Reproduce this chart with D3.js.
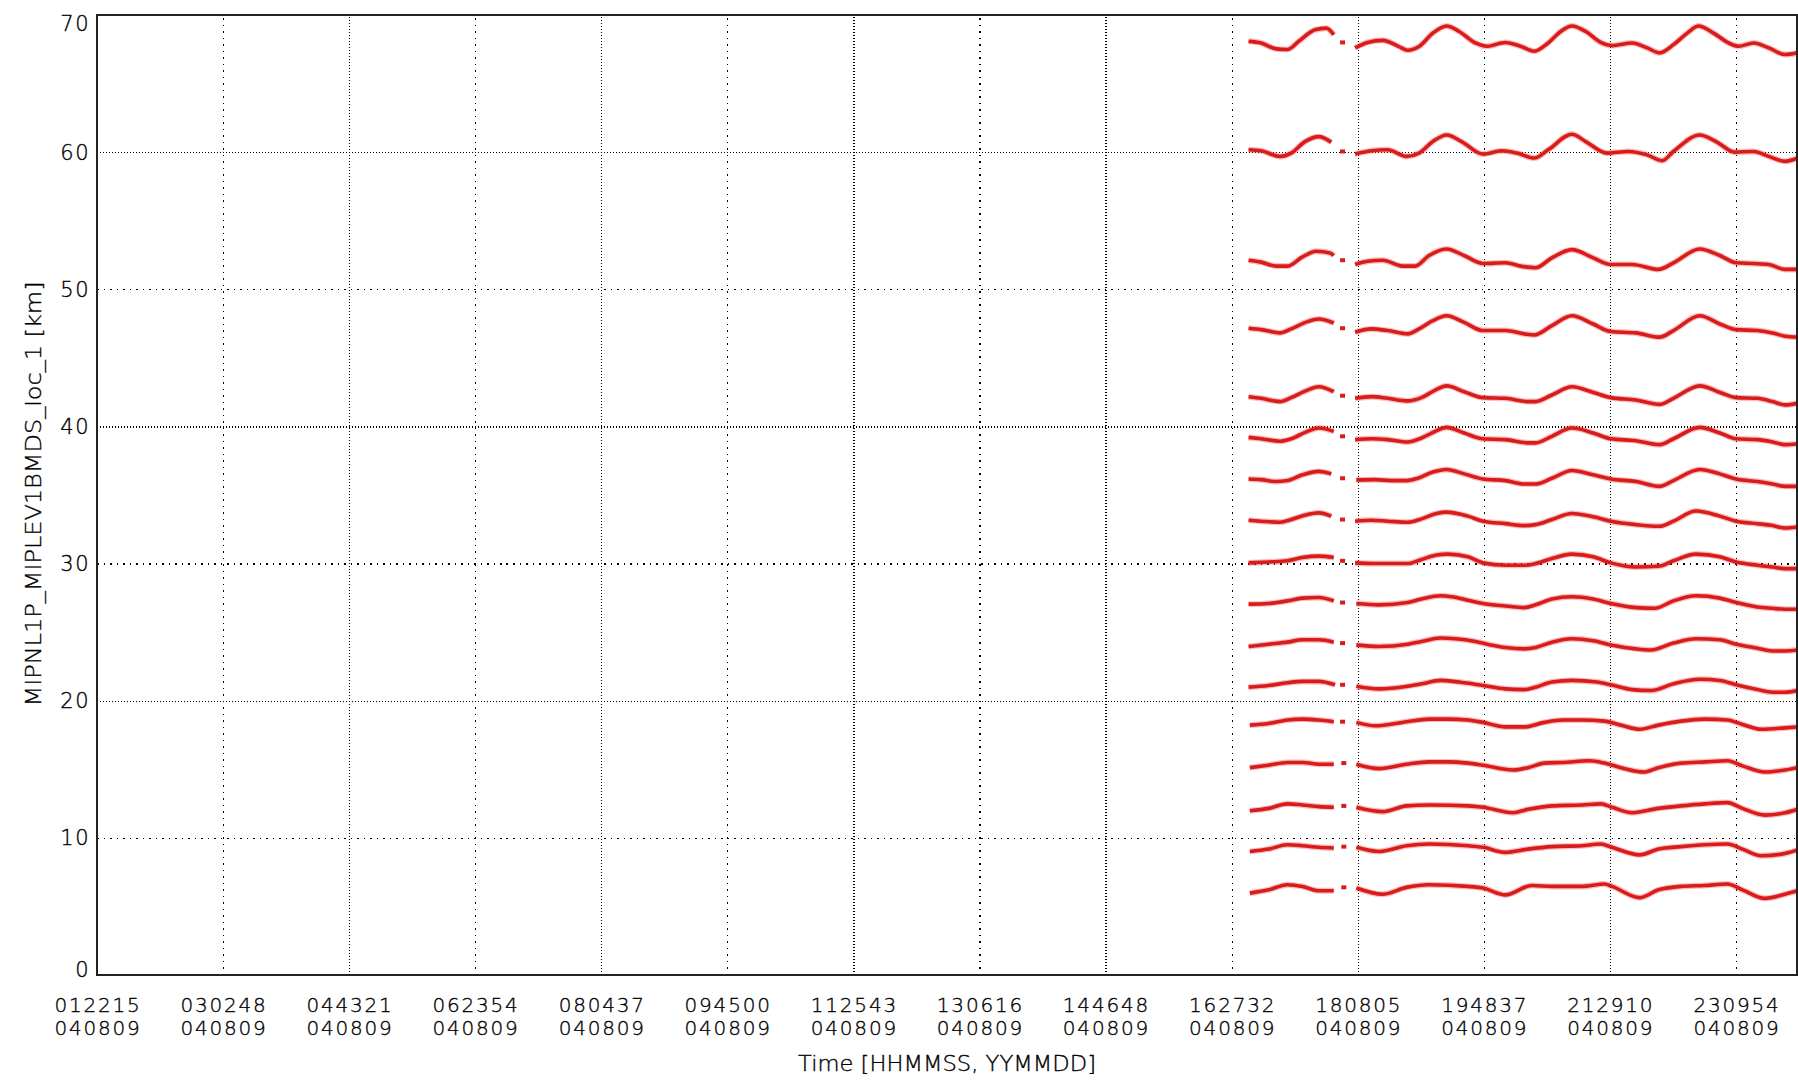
<!DOCTYPE html>
<html><head><meta charset="utf-8">
<script src="https://cdn.jsdelivr.net/npm/d3@7"></script>
<style>html,body{margin:0;padding:0;background:#fff;} svg{display:block;}</style>
</head><body>
<svg id="chart" width="1798" height="1086"></svg>
<script>
// ---------- tick labels ----------
const timeTicks = ["012215","030248","044321","062354","080437","094500","112543","130616","144648","162732","180805","194837","212910","230954"];
const dateTicks = ["040809","040809","040809","040809","040809","040809","040809","040809","040809","040809","040809","040809","040809","040809"];
const yTicks = [0,10,20,30,40,50,60,70];
const xTitle = "Time [HHMMSS, YYMMDD]";
const yTitle = "MIPNL1P_MIPLEV1BMDS_loc_1 [km]";

// ---------- series (time HH:MM, altitude km); null = data gap ----------
const s68 = [["16:41",68.08],["16:51",67.96],["17:03",67.53],["17:12",67.48],["17:21",68.08],["17:34",68.92],["17:43",69.04],["17:49",68.56],["17:53",null],["17:56",68.0],["18:01",null],["18:06",67.6],["18:16",68.0],["18:28",68.15],["18:41",67.7],["18:48",67.43],["18:57",67.7],["19:08",68.68],["19:19",69.2],["19:29",68.8],["19:42",67.96],["19:51",67.72],["20:06",68.0],["20:18",67.72],["20:29",67.36],["20:40",67.96],["20:50",68.8],["20:59",69.2],["21:10",68.8],["21:22",68.0],["21:31",67.77],["21:47",67.96],["21:59",67.6],["22:09",67.24],["22:20",67.84],["22:31",68.68],["22:40",69.2],["22:52",68.68],["23:04",67.96],["23:12",67.72],["23:24",67.96],["23:36",67.6],["23:49",67.12],["23:59",67.24]];
const s60 = [["16:41",60.17],["16:51",60.1],["17:06",59.69],["17:15",59.93],["17:26",60.77],["17:37",61.13],["17:47",60.72],["17:53",null],["17:56",60.05],["18:01",null],["18:06",59.86],["18:19",60.1],["18:32",60.17],["18:47",59.69],["18:57",59.93],["19:08",60.77],["19:19",61.25],["19:31",60.77],["19:48",59.86],["20:03",60.1],["20:15",59.93],["20:29",59.57],["20:40",60.17],["20:59",61.3],["21:10",60.77],["21:27",59.93],["21:44",60.05],["21:59",59.8],["22:11",59.38],["22:20",60.05],["22:41",61.25],["22:54",60.77],["23:09",60.0],["23:24",60.05],["23:36",59.69],["23:49",59.33],["23:59",59.57]];
const s52 = [["16:41",52.12],["16:51",51.98],["17:03",51.69],["17:12",51.69],["17:24",52.36],["17:35",52.77],["17:46",52.65],["17:49",52.46],["17:53",null],["17:56",52.12],["18:01",null],["18:06",51.81],["18:16",52.05],["18:28",52.12],["18:44",51.69],["18:54",51.69],["19:05",52.46],["19:19",52.94],["19:33",52.46],["19:48",51.88],["20:06",51.93],["20:18",51.69],["20:30",51.57],["20:43",52.29],["20:59",52.89],["21:16",52.29],["21:30",51.81],["21:47",51.81],["22:08",51.45],["22:20",51.93],["22:41",52.94],["22:57",52.46],["23:10",51.93],["23:24",51.88],["23:36",51.81],["23:49",51.45],["23:59",51.45]];
const s47 = [["16:41",47.16],["16:51",47.06],["17:06",46.82],["17:15",47.11],["17:28",47.64],["17:37",47.83],["17:49",47.54],["17:53",null],["17:56",47.16],["18:01",null],["18:06",46.87],["18:19",47.11],["18:32",46.99],["18:48",46.75],["18:57",47.11],["19:08",47.71],["19:19",48.07],["19:33",47.59],["19:48",46.99],["20:06",46.99],["20:21",46.75],["20:29",46.67],["20:43",47.35],["20:59",48.07],["21:16",47.47],["21:30",46.92],["21:50",46.82],["22:09",46.51],["22:20",46.99],["22:41",48.07],["22:57",47.47],["23:10",47.06],["23:27",46.99],["23:39",46.82],["23:49",46.58],["23:59",46.51]];
const s42 = [["16:41",42.17],["16:51",42.05],["17:06",41.81],["17:15",42.1],["17:28",42.65],["17:37",42.89],["17:49",42.53],["17:53",null],["17:56",42.24],["18:01",null],["18:06",42.05],["18:19",42.17],["18:32",42.05],["18:48",41.86],["18:59",42.1],["19:10",42.65],["19:19",42.96],["19:33",42.53],["19:48",42.1],["20:06",42.05],["20:24",41.81],["20:30",41.81],["20:43",42.29],["20:59",42.89],["21:16",42.48],["21:30",42.1],["21:50",41.93],["22:09",41.61],["22:20",42.05],["22:41",42.96],["22:57",42.48],["23:10",42.1],["23:27",42.05],["23:39",41.81],["23:49",41.57],["23:59",41.69]];
const s39 = [["16:41",39.2],["16:51",39.1],["17:06",38.92],["17:15",39.1],["17:28",39.64],["17:37",39.88],["17:49",39.64],["17:53",null],["17:56",39.28],["18:01",null],["18:06",39.04],["18:19",39.1],["18:32",39.04],["18:48",38.87],["18:59",39.16],["19:10",39.64],["19:19",39.93],["19:33",39.52],["19:48",39.1],["20:06",39.04],["20:24",38.8],["20:30",38.8],["20:43",39.28],["20:59",39.88],["21:16",39.52],["21:30",39.1],["21:50",38.96],["22:09",38.67],["22:20",39.1],["22:41",39.93],["22:57",39.52],["23:10",39.1],["23:27",39.04],["23:39",38.87],["23:49",38.67],["23:59",38.72]];
const s36 = [["16:41",36.17],["16:51",36.12],["17:03",35.98],["17:12",36.05],["17:24",36.47],["17:37",36.72],["17:47",36.54],["17:53",null],["17:56",36.22],["18:01",null],["18:07",36.1],["18:22",36.12],["18:35",36.05],["18:47",36.05],["18:56",36.22],["19:08",36.67],["19:19",36.86],["19:33",36.54],["19:48",36.17],["20:06",36.05],["20:21",35.8],["20:30",35.8],["20:43",36.22],["20:59",36.79],["21:16",36.47],["21:30",36.17],["21:50",35.98],["22:09",35.63],["22:20",36.05],["22:41",36.86],["22:57",36.54],["23:10",36.17],["23:27",35.98],["23:39",35.8],["23:49",35.63],["23:59",35.63]];
const s33 = [["16:41",33.16],["16:51",33.09],["17:06",33.01],["17:15",33.21],["17:28",33.58],["17:37",33.7],["17:47",33.46],["17:53",null],["17:56",33.21],["18:01",null],["18:06",33.09],["18:19",33.16],["18:32",33.09],["18:48",33.01],["18:59",33.26],["19:11",33.65],["19:19",33.75],["19:36",33.46],["19:48",33.09],["20:06",32.91],["20:21",32.77],["20:30",32.84],["20:43",33.21],["20:59",33.65],["21:16",33.41],["21:30",33.09],["21:50",32.84],["22:09",32.72],["22:20",33.09],["22:38",33.83],["22:57",33.46],["23:10",33.09],["23:27",32.91],["23:39",32.77],["23:49",32.59],["23:59",32.67]];
const s30 = [["16:41",30.05],["16:57",30.12],["17:12",30.2],["17:24",30.44],["17:37",30.54],["17:49",30.44],["17:53",null],["17:56",30.2],["18:01",null],["18:06",30.05],["18:22",30.0],["18:48",30.0],["18:59",30.3],["19:11",30.62],["19:20",30.69],["19:36",30.49],["19:48",30.05],["20:06",29.88],["20:21",29.88],["20:30",30.0],["20:43",30.37],["20:59",30.69],["21:16",30.49],["21:30",30.05],["21:50",29.75],["22:08",29.8],["22:20",30.2],["22:38",30.69],["22:57",30.49],["23:10",30.12],["23:27",29.88],["23:39",29.75],["23:49",29.63],["23:59",29.63]];
const s27 = [["16:41",27.04],["16:57",27.09],["17:12",27.28],["17:24",27.48],["17:37",27.53],["17:49",27.28],["17:53",null],["17:56",27.16],["18:01",null],["18:07",27.09],["18:25",26.99],["18:48",27.16],["18:59",27.41],["19:14",27.65],["19:23",27.58],["19:36",27.33],["19:48",27.09],["20:06",26.91],["20:21",26.79],["20:30",26.99],["20:43",27.41],["20:59",27.58],["21:16",27.41],["21:30",27.09],["21:50",26.79],["22:05",26.74],["22:20",27.28],["22:38",27.65],["22:57",27.48],["23:10",27.16],["23:27",26.84],["23:39",26.74],["23:49",26.67],["23:59",26.67]];
const s24 = [["16:41",23.95],["16:57",24.12],["17:12",24.27],["17:24",24.44],["17:37",24.44],["17:49",24.27],["17:53",null],["17:56",24.2],["18:01",null],["18:07",24.07],["18:25",23.95],["18:48",24.12],["18:59",24.32],["19:14",24.57],["19:26",24.52],["19:42",24.32],["19:54",24.07],["20:06",23.88],["20:21",23.78],["20:30",23.88],["20:43",24.27],["20:59",24.52],["21:16",24.37],["21:30",24.07],["21:50",23.78],["22:02",23.7],["22:20",24.2],["22:38",24.52],["22:57",24.44],["23:10",24.12],["23:27",23.83],["23:39",23.63],["23:49",23.63],["23:59",23.7]];
const s21 = [["16:41",20.99],["16:57",21.11],["17:12",21.31],["17:24",21.41],["17:37",21.41],["17:50",21.16],["17:53",null],["17:56",21.16],["18:01",null],["18:07",21.06],["18:25",20.86],["18:48",21.06],["18:59",21.23],["19:14",21.48],["19:29",21.36],["19:48",21.11],["20:06",20.86],["20:21",20.81],["20:30",20.99],["20:43",21.36],["20:59",21.48],["21:19",21.36],["21:30",21.16],["21:47",20.81],["22:02",20.74],["22:20",21.23],["22:41",21.56],["22:57",21.48],["23:10",21.16],["23:27",20.81],["23:39",20.62],["23:49",20.62],["23:59",20.74]];
const s18 = [["16:42",18.22],["16:57",18.34],["17:12",18.59],["17:24",18.66],["17:37",18.59],["17:49",18.47],["17:53",null],["17:56",18.47],["18:01",null],["18:07",18.42],["18:22",18.17],["18:47",18.47],["19:05",18.66],["19:20",18.66],["19:36",18.59],["19:48",18.42],["20:06",18.09],["20:21",18.09],["20:37",18.42],["20:52",18.59],["21:07",18.59],["21:25",18.51],["21:38",18.22],["21:53",17.92],["22:08",18.22],["22:26",18.51],["22:45",18.66],["23:03",18.59],["23:15",18.27],["23:30",17.92],["23:49",18.02],["23:59",18.09]];
const s15 = [["16:42",15.12],["16:57",15.3],["17:12",15.5],["17:24",15.5],["17:37",15.37],["17:49",15.37],["17:53",null],["17:57",15.45],["18:01",null],["18:07",15.37],["18:25",15.05],["18:47",15.37],["19:05",15.54],["19:20",15.54],["19:36",15.45],["19:48",15.3],["20:12",14.95],["20:24",15.12],["20:37",15.45],["20:52",15.5],["21:13",15.62],["21:25",15.45],["21:38",15.12],["21:56",14.8],["22:08",15.12],["22:26",15.45],["22:45",15.54],["23:03",15.62],["23:15",15.25],["23:33",14.8],["23:49",14.95],["23:59",15.12]];
const s12 = [["16:42",11.98],["16:57",12.15],["17:12",12.48],["17:24",12.4],["17:37",12.28],["17:49",12.23],["17:53",null],["17:57",12.33],["18:01",null],["18:07",12.23],["18:28",11.91],["18:47",12.33],["19:05",12.4],["19:36",12.33],["19:48",12.23],["20:12",11.83],["20:24",12.08],["20:43",12.33],["21:07",12.4],["21:22",12.48],["21:31",12.23],["21:47",11.83],["22:08",12.15],["22:26",12.33],["22:45",12.48],["23:03",12.57],["23:15",12.15],["23:33",11.66],["23:49",11.83],["23:59",12.08]];
const s9 = [["16:42",9.01],["16:57",9.18],["17:12",9.5],["17:24",9.43],["17:37",9.31],["17:49",9.26],["17:53",null],["17:57",9.36],["18:01",null],["18:07",9.31],["18:25",9.01],["18:47",9.43],["19:05",9.55],["19:36",9.43],["19:48",9.31],["20:06",8.94],["20:24",9.18],["20:43",9.36],["21:07",9.43],["21:22",9.55],["21:31",9.31],["21:53",8.76],["22:08",9.18],["22:26",9.36],["22:45",9.5],["23:03",9.55],["23:15",9.18],["23:30",8.69],["23:49",8.86],["23:59",9.11]];
const s6 = [["16:42",5.97],["16:57",6.21],["17:12",6.58],["17:24",6.46],["17:37",6.14],["17:49",6.14],["17:53",null],["17:57",6.39],["18:01",null],["18:07",6.34],["18:28",5.89],["18:47",6.39],["19:05",6.58],["19:36",6.46],["19:48",6.34],["20:06",5.84],["20:27",6.53],["20:43",6.46],["21:07",6.46],["21:25",6.63],["21:31",6.46],["21:53",5.64],["22:08",6.21],["22:26",6.46],["22:45",6.53],["23:03",6.63],["23:15",6.21],["23:33",5.59],["23:49",5.89],["23:59",6.14]];
const seriesList = [s68, s60, s52, s47, s42, s39, s36, s33, s30, s27, s24, s21, s18, s15, s12, s9, s6];

// ---------- layout ----------
const W = 1798, H = 1086;
const L = 97, R = 1797, T = 15, B = 975;
const FONT = "'DejaVu Sans', 'Liberation Sans', sans-serif";
const LINE_COLOR = "#d81c1c";
const TXT = "#000";

const hms = s => (+s.slice(0,2))*3600 + (+s.slice(2,4))*60 + (+s.slice(4,6));
const hm = s => { const p = s.split(":"); return (+p[0])*3600 + (+p[1])*60; };

const x = d3.scaleLinear().domain([hms(timeTicks[0]), 86314]).range([L, R]);
const y = d3.scaleLinear().domain([0, 70]).range([B, T]);

const svg = d3.select("#chart");
svg.append("rect").attr("width", W).attr("height", H).attr("fill", "#fff");

// gridlines via axes
const tickSecs = timeTicks.map(hms);
const gx = svg.append("g").attr("transform", `translate(0,${B})`)
  .call(d3.axisBottom(x).tickValues(tickSecs).tickSize(-(B - T)).tickFormat(""));
gx.select(".domain").remove();
gx.selectAll(".tick line")
  .attr("stroke", "#000").attr("stroke-width", 1.3)
  .attr("stroke-dasharray", (d, i) => i % 2 === 0 ? "1.3,1.7" : "1.5,5")
  .attr("shape-rendering", "crispEdges");

const gy = svg.append("g").attr("transform", `translate(${L},0)`)
  .call(d3.axisLeft(y).tickValues(yTicks).tickSize(-(R - L)).tickFormat(""));
gy.select(".domain").remove();
gy.selectAll(".tick line")
  .attr("stroke", "#000").attr("stroke-width", 1.3)
  .attr("stroke-dasharray", d => (d / 10) % 2 === 0 ? "1.3,1.7" : "1.5,5")
  .attr("shape-rendering", "crispEdges");

// x tick labels (two lines)
const xl = svg.append("g").attr("font-family", FONT).attr("font-size", 20).attr("font-weight", 300)
  .attr("letter-spacing", "1.8px").attr("fill", TXT).attr("stroke", TXT).attr("stroke-width", 0.35)
  .attr("text-anchor", "middle");
tickSecs.forEach((t, i) => {
  xl.append("text").attr("x", x(t) + 1).attr("y", 1012).text(timeTicks[i]);
  xl.append("text").attr("x", x(t) + 1).attr("y", 1035).text(dateTicks[i]);
});

// y tick labels
const yl = svg.append("g").attr("font-family", FONT).attr("font-size", 21).attr("font-weight", 300)
  .attr("letter-spacing", "1.5px").attr("fill", TXT).attr("stroke", TXT).attr("stroke-width", 0.35)
  .attr("text-anchor", "end");
yTicks.forEach(v => {
  const yy = Math.max(T + 8, Math.min(B - 6, y(v)));
  yl.append("text").attr("x", 90).attr("y", yy).attr("dy", "0.36em").text(v);
});

// axis titles
svg.append("text").attr("x", (L + R) / 2).attr("y", 1071).attr("text-anchor", "middle")
  .attr("font-family", FONT).attr("font-size", 21).attr("font-weight", 300).attr("fill", TXT)
  .attr("stroke", TXT).attr("stroke-width", 0.35)
  .attr("textLength", 298).attr("lengthAdjust", "spacingAndGlyphs").text(xTitle);
svg.append("text").attr("transform", "translate(41,494) rotate(-90)").attr("text-anchor", "middle")
  .attr("font-family", FONT).attr("font-size", 21).attr("font-weight", 300).attr("fill", TXT)
  .attr("stroke", TXT).attr("stroke-width", 0.35)
  .attr("textLength", 425).attr("lengthAdjust", "spacingAndGlyphs").text(yTitle);

// clip
svg.append("clipPath").attr("id", "clip").append("rect").attr("x", L).attr("y", T).attr("width", R - L).attr("height", B - T);

// data lines
const line = d3.line()
  .defined(d => d[1] !== null)
  .curve(d3.curveMonotoneX)
  .x(d => x(hm(d[0])))
  .y(d => y(d[1]));
const gd = svg.append("g").attr("clip-path", "url(#clip)");
seriesList.forEach(s => {
  gd.append("path").datum(s).attr("d", line)
    .attr("fill", "none").attr("stroke", "#f04040").attr("stroke-opacity", 0.35).attr("stroke-width", 6)
    .attr("stroke-linejoin", "round");
  gd.append("path").datum(s).attr("d", line)
    .attr("fill", "none").attr("stroke", LINE_COLOR).attr("stroke-width", 3.6)
    .attr("stroke-linejoin", "round");
  // isolated samples inside the gap
  s.forEach((d, i) => {
    if (d[1] === null) return;
    const prev = s[i - 1], next = s[i + 1];
    if (prev && next && prev[1] === null && next[1] === null) {
      gd.append("rect").attr("x", x(hm(d[0])) - 2.5).attr("y", y(d[1]) - 2)
        .attr("width", 5).attr("height", 4).attr("fill", LINE_COLOR);
    }
  });
});

// frame
svg.append("rect").attr("x", L).attr("y", T).attr("width", R - L).attr("height", B - T)
  .attr("fill", "none").attr("stroke", "#222").attr("stroke-width", 2);
</script>
</body></html>
